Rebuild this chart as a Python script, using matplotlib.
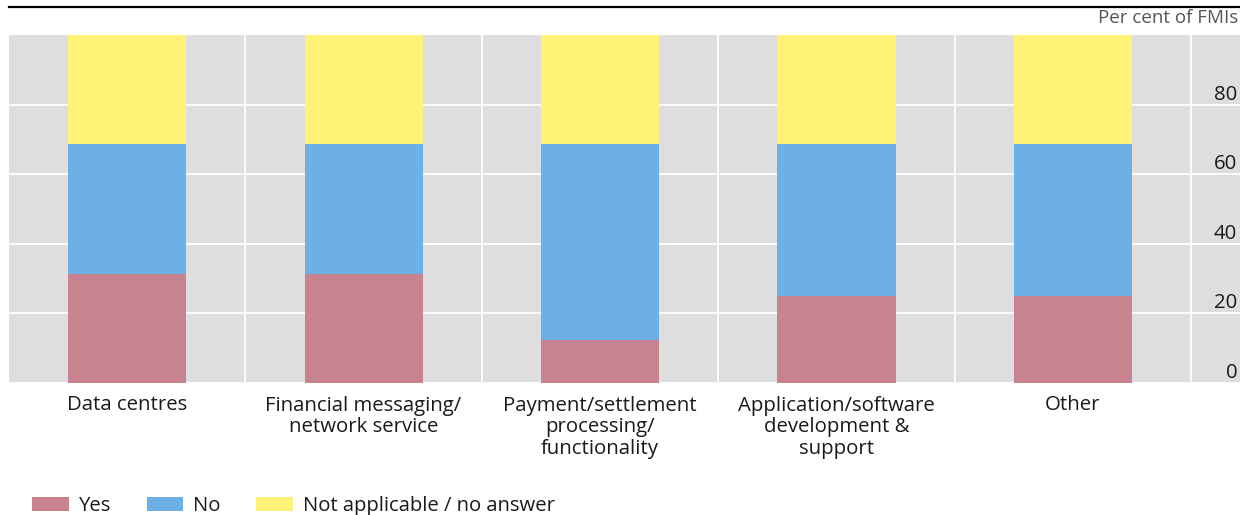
import numpy as np
import matplotlib
matplotlib.use("Agg")
import matplotlib.pyplot as plt
from matplotlib.patches import Patch
from matplotlib.lines import Line2D

plt.rcParams['font.family'] = ['Open Sans', 'DejaVu Sans']

# data (per cent of FMIs)
categories = [
    "Data centres",
    "Financial messaging/\nnetwork service",
    "Payment/settlement\nprocessing/\nfunctionality",
    "Application/software\ndevelopment &\nsupport",
    "Other",
]
yes = [31.25, 31.25, 12.5, 25.0, 25.0]
no = [37.5, 37.5, 56.25, 43.75, 43.75]
not_applicable = [31.25, 31.25, 31.25, 31.25, 31.25]
series_names = ["Yes", "No", "Not applicable / no answer"]
y_ticks = [0, 20, 40, 60, 80]

colours = ["#C7838F", "#6CB0E6", "#FFF276"]
bg = "#DEDEDE"
text_col = "#1A1A1A"

W, H = 1240, 515
fig = plt.figure(figsize=(W / 100, H / 100), dpi=100)
ax = fig.add_axes([9 / W, (H - 383) / H, (W - 9) / W, (383 - 35) / H])
ax.set_facecolor(bg)

x = np.arange(len(categories))
bottom = np.zeros(len(categories))
for vals, col in zip([yes, no, not_applicable], colours):
    ax.bar(x, vals, width=0.5, bottom=bottom, color=col, zorder=3, linewidth=0)
    bottom += np.array(vals)

unit = (1191 - 9) / 5.0
ax.set_xlim(-0.5, 4.5 + (W - 1191) / unit)
ax.set_ylim(0, 100)

# grid
ax.set_xticks(x)
ax.set_xticks(np.arange(0.5, 5.0, 1.0), minor=True)
ax.set_yticks(y_ticks)
ax.grid(True, which='minor', axis='x', color='white', lw=1.3, zorder=1)
ax.grid(True, which='major', axis='y', color='white', lw=1.3, zorder=1)
ax.grid(False, which='major', axis='x')
for s in ax.spines.values():
    s.set_visible(False)

ax.set_xticklabels(categories, fontsize=14.7, color=text_col, linespacing=1.12)
ax.tick_params(axis='x', which='both', length=0, pad=9)

ax.yaxis.tick_right()
ax.tick_params(axis='y', length=0, pad=-2, labelsize=14.7, labelcolor=text_col)
for lab in ax.get_yticklabels():
    lab.set_ha('right')
    lab.set_va('bottom')

# top rule and unit label
fig.add_artist(Line2D([9 / W, 1.0], [(H - 7) / H] * 2, color='black', lw=1.6))
fig.text(1238 / W, (H - 18) / H, "Per cent of FMIs", ha='right', va='center',
         fontsize=13.5, color='#555555')

handles = [Patch(facecolor=c, edgecolor='none') for c in colours]
fig.legend(handles, series_names, loc='center left',
           bbox_to_anchor=(32 / W, (H - 506) / H), ncol=3, frameon=False,
           fontsize=14.6, handlelength=1.8, handleheight=0.7, handletextpad=0.5,
           columnspacing=1.75, borderpad=0, borderaxespad=0, labelcolor=text_col)

fig.savefig("out.png", dpi=100)
